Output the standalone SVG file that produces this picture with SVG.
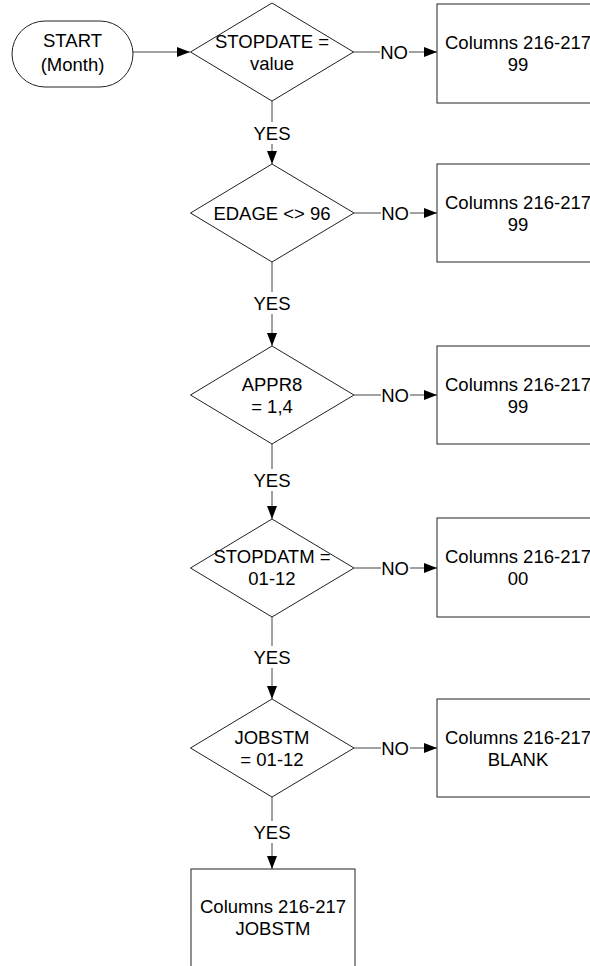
<svg xmlns="http://www.w3.org/2000/svg" width="590" height="966" viewBox="0 0 590 966">
<style>
.shape{fill:#fff;stroke:#222;stroke-width:1}
.conn{fill:none;stroke:#444;stroke-width:1}
text{font-family:"Liberation Sans",Arial,sans-serif;font-size:18.5px;fill:#000;text-anchor:middle}
</style>
<defs>
<marker id="arr" markerWidth="13" markerHeight="10" refX="13" refY="5" orient="auto" markerUnits="userSpaceOnUse">
<path d="M0,0 L13,5 L0,10 Z" fill="#000"/>
</marker>
</defs>
<rect width="590" height="966" fill="#fff"/>
<g id="connectors">
<line class="conn" x1="133" y1="52" x2="190" y2="52" marker-end="url(#arr)"/>
<line class="conn" x1="353" y1="52" x2="380" y2="52"/>
<line class="conn" x1="409" y1="52" x2="437" y2="52" marker-end="url(#arr)"/>
<text x="394" y="58.5">NO</text>
<line class="conn" x1="272" y1="101" x2="272" y2="122"/>
<line class="conn" x1="272" y1="144" x2="272" y2="164" marker-end="url(#arr)"/>
<text x="272" y="140">YES</text>
<line class="conn" x1="354" y1="213" x2="381" y2="213"/>
<line class="conn" x1="410" y1="213" x2="437" y2="213" marker-end="url(#arr)"/>
<text x="395" y="219.5">NO</text>
<line class="conn" x1="272" y1="262" x2="272" y2="292"/>
<line class="conn" x1="272" y1="314" x2="272" y2="346" marker-end="url(#arr)"/>
<text x="272" y="310">YES</text>
<line class="conn" x1="354" y1="395" x2="381" y2="395"/>
<line class="conn" x1="410" y1="395" x2="437" y2="395" marker-end="url(#arr)"/>
<text x="395" y="401.5">NO</text>
<line class="conn" x1="272" y1="444" x2="272" y2="469"/>
<line class="conn" x1="272" y1="491" x2="272" y2="519" marker-end="url(#arr)"/>
<text x="272" y="487">YES</text>
<line class="conn" x1="354" y1="568" x2="381" y2="568"/>
<line class="conn" x1="410" y1="568" x2="437" y2="568" marker-end="url(#arr)"/>
<text x="395" y="574.5">NO</text>
<line class="conn" x1="272" y1="617" x2="272" y2="646"/>
<line class="conn" x1="272" y1="668" x2="272" y2="699" marker-end="url(#arr)"/>
<text x="272" y="664">YES</text>
<line class="conn" x1="354" y1="748" x2="381" y2="748"/>
<line class="conn" x1="410" y1="748" x2="437" y2="748" marker-end="url(#arr)"/>
<text x="395" y="754.5">NO</text>
<line class="conn" x1="272" y1="797" x2="272" y2="821"/>
<line class="conn" x1="272" y1="843" x2="272" y2="869" marker-end="url(#arr)"/>
<text x="272" y="839">YES</text>
</g>
<g id="start">
<rect class="shape" x="12" y="21" width="121" height="66" rx="33" ry="33"/>
<text x="72.5" y="47">START</text>
<text x="72.5" y="71">(Month)</text>
</g>
<g id="d1">
<polygon class="shape" points="272,3 353.5,52 272,101 190.5,52"/>
<text x="272" y="47.5">STOPDATE =</text>
<text x="272" y="69.5">value</text>
</g>
<g id="b1">
<rect class="shape" x="437" y="4" width="164" height="99"/>
<text x="518" y="49">Columns 216-217</text>
<text x="518" y="71">99</text>
</g>
<g id="d2">
<polygon class="shape" points="272,164 354,213 272,262 190.5,213"/>
<text x="272" y="219.5">EDAGE &lt;&gt; 96</text>
</g>
<g id="b2">
<rect class="shape" x="437" y="164" width="164" height="98"/>
<text x="518" y="208.5">Columns 216-217</text>
<text x="518" y="230.5">99</text>
</g>
<g id="d3">
<polygon class="shape" points="272,346 354,395 272,444 190.5,395"/>
<text x="272" y="390.5">APPR8</text>
<text x="272" y="412.5">= 1,4</text>
</g>
<g id="b3">
<rect class="shape" x="437" y="346" width="164" height="98"/>
<text x="518" y="390.5">Columns 216-217</text>
<text x="518" y="412.5">99</text>
</g>
<g id="d4">
<polygon class="shape" points="272,519 354,568 272,617 190.5,568"/>
<text x="272" y="563">STOPDATM =</text>
<text x="272" y="585">01-12</text>
</g>
<g id="b4">
<rect class="shape" x="437" y="518" width="164" height="99"/>
<text x="518" y="563">Columns 216-217</text>
<text x="518" y="585">00</text>
</g>
<g id="d5">
<polygon class="shape" points="272,699 354,748 272,797 190.5,748"/>
<text x="272" y="743.5">JOBSTM</text>
<text x="272" y="765.5">= 01-12</text>
</g>
<g id="b5">
<rect class="shape" x="437" y="699" width="164" height="98"/>
<text x="518" y="743.5">Columns 216-217</text>
<text x="518" y="765.5">BLANK</text>
</g>
<g id="b6">
<rect class="shape" x="191" y="869" width="164" height="99"/>
<text x="273" y="913">Columns 216-217</text>
<text x="273" y="935">JOBSTM</text>
</g>
</svg>
